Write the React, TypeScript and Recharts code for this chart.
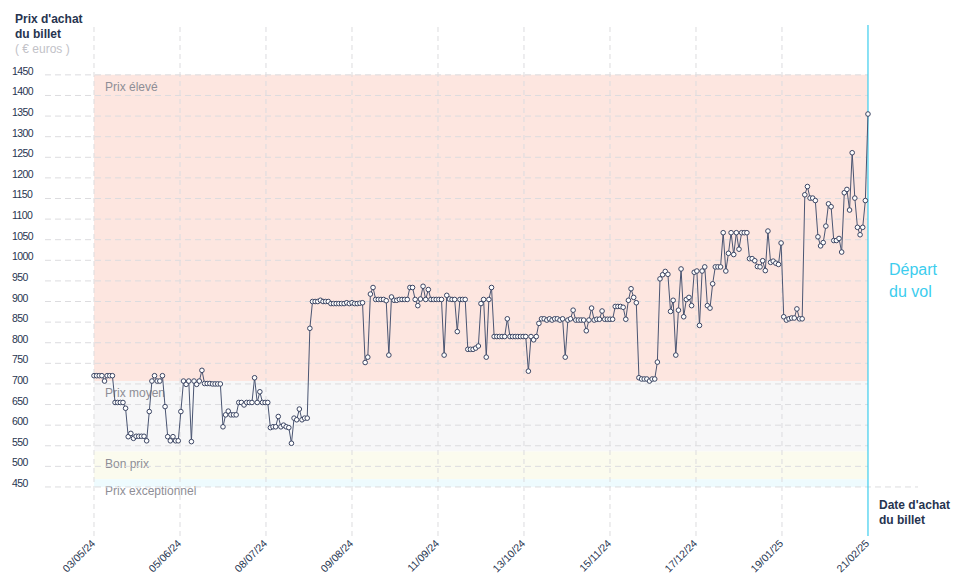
import { LineChart, Line, XAxis, YAxis, ReferenceArea, ReferenceLine } from 'recharts'

// prix relevés chaque jour, du 03/05/24 au 21/02/25
const prices = [
  720, 720, 720, 720, 707, 720, 720, 720, 655, 655, 655, 655, 641, 572, 580, 568, 573, 573, 573, 573,
  562, 633, 707, 720, 707, 707, 720, 645, 572, 562, 572, 562, 562, 633, 707, 699, 707, 560, 707, 699,
  707, 733, 701, 701, 701, 700, 700, 700, 700, 596, 625, 634, 625, 625, 625, 655, 655, 649, 655, 655,
  655, 715, 655, 681, 655, 655, 655, 594, 596, 596, 621, 596, 600, 596, 594, 556, 617, 613, 639, 613,
  617, 617, 835, 900, 900, 900, 903, 900, 900, 900, 895, 895, 895, 895, 895, 895, 897, 895, 897, 895,
  895, 896, 897, 752, 765, 918, 934, 905, 905, 905, 905, 902, 770, 911, 903, 903, 905, 905, 905, 905,
  934, 934, 905, 890, 906, 937, 905, 929, 905, 905, 905, 905, 905, 770, 915, 906, 905, 905, 827, 905,
  905, 905, 784, 784, 784, 787, 792, 895, 905, 765, 905, 934, 815, 815, 815, 815, 815, 858, 815, 815,
  815, 815, 815, 815, 815, 731, 815, 807, 815, 847, 858, 858, 855, 858, 855, 858, 858, 855, 858, 765,
  855, 858, 879, 855, 855, 855, 855, 829, 855, 884, 855, 857, 857, 877, 857, 857, 857, 857, 888, 888,
  888, 886, 857, 903, 931, 910, 897, 715, 712, 712, 712, 707, 712, 712, 753, 955, 965, 973, 966, 876,
  903, 770, 879, 979, 863, 905, 910, 890, 971, 974, 842, 974, 984, 890, 884, 943, 984, 984, 984, 1067,
  974, 1017, 1067, 1014, 1067, 1027, 1067, 1067, 1067, 1004, 1004, 999, 985, 984, 999, 975, 1071, 995, 998, 993,
  990, 1042, 863, 855, 858, 860, 860, 882, 858, 858, 1159, 1179, 1151, 1151, 1145, 1057, 1035, 1043, 1083, 1137,
  1130, 1048, 1048, 1053, 1020, 1164, 1172, 1122, 1261, 1151, 1080, 1062, 1080, 1145, 1355,
]

const tickDays = [0, 32.67, 65.33, 98, 130.67, 163.33, 196, 228.67, 261.33, 294]
const tickLabels = ['03/05/24', '05/06/24', '08/07/24', '09/08/24', '11/09/24', '13/10/24', '15/11/24', '17/12/24', '19/01/25', '21/02/25']

const priceTicks = [450, 500, 550, 600, 650, 700, 750, 800, 850, 900, 950, 1000, 1050, 1100, 1150, 1200, 1250, 1300, 1350, 1400, 1450]

const bandNames = ['Prix élevé', 'Prix moyen', 'Bon prix', 'Prix exceptionnel']
const bandTops = [1450, 707, 536, 469]
const bandBottoms = [707, 536, 469, 450]
const bandColors = ['#fde6e0', '#f7f7f8', '#fbfbee', '#eefbfe']

const data = prices.map((price, day) => ({ day, price }))

const NAVY = '#27344f'
const GRID = '#dcdcdf'
const FONT = "'Liberation Sans', Arial, sans-serif"

function YTick({ y, payload }: any) {
  return (
    <text x={12} y={y} fontSize={10.5} fill={NAVY} letterSpacing={-0.6} fontFamily={FONT}>
      {payload.value}
    </text>
  )
}

function XTick({ x, payload, index }: any) {
  const ax = x + 2
  const ay = 544
  return (
    <text x={ax} y={ay} textAnchor="end" fontSize={10.5} fill={NAVY} fontFamily={FONT} transform={`rotate(-45 ${ax} ${ay})`}>
      {tickLabels[index] ?? payload.value}
    </text>
  )
}

function BandLabel({ viewBox, text }: any) {
  if (!viewBox) return null
  return (
    <text x={viewBox.x + 11} y={viewBox.y + 16} fontSize={12} fill="#8e8e96" fontFamily={FONT}>
      {text}
    </text>
  )
}

function Dot({ cx, cy }: any) {
  if (cx == null || cy == null) return null
  return <circle cx={cx} cy={cy} r={2.3} fill="#fff" stroke="#3b4563" strokeWidth={1} />
}

export default function App() {
  return (
    <div style={{ position: 'relative', width: 958, height: 585, overflow: 'hidden', fontFamily: FONT }}>
      <style>{'body{margin:0}'}</style>
      <div style={{ position: 'absolute', left: 15, top: 12, fontSize: 12, fontWeight: 700, color: NAVY, lineHeight: '15px' }}>
        Prix d'achat
        <br />
        du billet
        <div style={{ fontWeight: 400, color: '#c2c2c8' }}>( € euros )</div>
      </div>
      <div style={{ position: 'absolute', left: 889, top: 259, fontSize: 16, color: '#3ccdee', lineHeight: '22px' }}>
        Départ
        <br />
        du vol
      </div>
      <div style={{ position: 'absolute', left: 879, top: 498, fontSize: 12, fontWeight: 700, color: NAVY, lineHeight: '15px' }}>
        Date d'achat
        <br />
        du billet
      </div>
      <LineChart width={958} height={585} data={data} margin={{ top: 25, right: 40, bottom: 9, left: 0 }}>
        {bandNames.map((name, i) => (
          <ReferenceArea
            key={name}
            x1={0}
            x2={294}
            y1={bandBottoms[i]}
            y2={bandTops[i]}
            fill={bandColors[i]}
            fillOpacity={1}
            stroke="none"
            label={<BandLabel text={name} />}
          />
        ))}
        {tickDays.slice(0, -1).map((d) => (
          <ReferenceLine key={`v${d}`} x={d} stroke={GRID} strokeDasharray="5 4" />
        ))}
        {priceTicks.map((v) => (
          <ReferenceLine
            key={v}
            segment={[{ x: -18.61, y: v }, { x: v === 450 ? 313 : 294, y: v }]}
            stroke={GRID}
            strokeDasharray="6 4"
          />
        ))}
        <ReferenceLine x={294} stroke="#3ccdee" strokeWidth={1.2} />
        <XAxis
          dataKey="day"
          type="number"
          domain={[-18.61, 313]}
          ticks={tickDays}
          interval={0}
          axisLine={false}
          tickLine={false}
          height={40}
          tick={<XTick />}
        />
        <YAxis
          type="number"
          domain={[331, 1571]}
          ticks={priceTicks}
          interval={0}
          axisLine={false}
          tickLine={false}
          width={45}
          tick={<YTick />}
        />
        <Line
          type="linear"
          dataKey="price"
          stroke="#4a5572"
          strokeWidth={1}
          dot={<Dot />}
          activeDot={false}
          isAnimationActive={false}
        />
      </LineChart>
    </div>
  )
}
